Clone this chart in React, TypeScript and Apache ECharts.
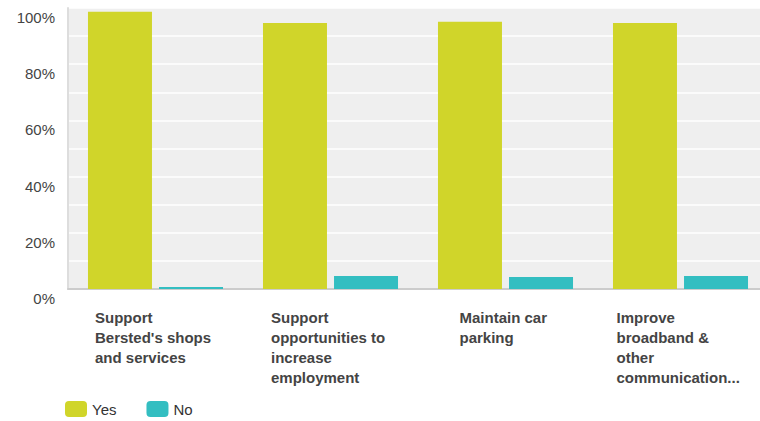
import React, { useEffect, useRef } from "react";
import * as echarts from "echarts";

const categories = [
  "Support\nBersted's shops\nand services",
  "Support\nopportunities to\nincrease\nemployment",
  "Maintain car\nparking",
  "Improve\nbroadband &\nother\ncommunication...",
];
const seriesNames = ["Yes", "No"];
const yesValues = [98.7, 94.7, 95.1, 94.7];
const noValues = [0.7, 4.6, 4.3, 4.6];
const yTicks = [0, 20, 40, 60, 80, 100];

const FONT = 'Arial, "Liberation Sans", Helvetica, sans-serif';
const LABEL_SIZE = 15;

function measure(text: string, font: string): number {
  const c = document.createElement("canvas").getContext("2d");
  if (!c) return text.length * 8;
  c.font = font;
  return c.measureText(text).width;
}

export default function App() {
  const ref = useRef<HTMLDivElement>(null);
  useEffect(() => {
    if (!ref.current) return;
    document.body.style.overflow = "hidden";
    const chart = echarts.init(ref.current, null, { renderer: "svg" });
    const rich: Record<string, any> = {};
    categories.forEach((c, i) => {
      const w = Math.max(
        ...c.split("\n").map((l) => measure(l, `bold ${LABEL_SIZE}px Arial, "Liberation Sans", sans-serif`))
      );
      rich["c" + i] = {
        width: Math.ceil(w) + 4,
        align: "left",
        fontSize: LABEL_SIZE,
        fontWeight: "bold",
        fontFamily: FONT,
        color: "#444",
        lineHeight: 20,
      };
    });
    chart.setOption({
      animation: false,
      backgroundColor: "#ffffff",
      color: ["#d0d52a", "#33bec1"],
      grid: {
        left: 68,
        top: 8,
        width: 700,
        height: 281,
        show: true,
        backgroundColor: "#efefef",
        borderWidth: 0,
      },
      legend: {
        data: seriesNames,
        left: 60,
        top: 396,
        itemWidth: 22,
        itemHeight: 16,
        itemGap: 30,
        icon: "roundRect",
        textStyle: { fontSize: 15, color: "#333", fontFamily: FONT },
      },
      xAxis: {
        type: "category",
        data: categories,
        axisLine: { show: true, lineStyle: { color: "#cccccc", width: 2 } },
        axisTick: { show: false },
        axisLabel: {
          interval: 0,
          margin: 18,
          align: "center",
          verticalAlign: "top",
          formatter: (v: string) => {
            const i = categories.indexOf(v);
            return v
              .split("\n")
              .map((l) => `{c${i}|${l}}`)
              .join("\n");
          },
          rich,
        },
        splitLine: { show: false },
      },
      yAxis: {
        type: "value",
        min: 0,
        max: 100,
        interval: 10,
        axisLine: { show: true, lineStyle: { color: "#dddddd", width: 2 } },
        axisTick: { show: false },
        splitLine: { show: true, lineStyle: { color: "#ffffff", width: 1.5 } },
        axisLabel: {
          margin: 13,
          fontSize: 15,
          color: "#444",
          fontFamily: FONT,
          verticalAlign: "top",
          padding: [2, 0, 0, 0],
          formatter: (v: number) => (yTicks.includes(v) ? v + "%" : ""),
        },
      },
      series: [
        {
          name: seriesNames[0],
          type: "bar",
          data: yesValues,
          barWidth: 64,
          barGap: "11%",
        },
        {
          name: seriesNames[1],
          type: "bar",
          data: noValues,
          barWidth: 64,
          barGap: "11%",
        },
      ],
    });
    return () => chart.dispose();
  }, []);
  return (
    <div
      ref={ref}
      style={{ position: "fixed", left: 0, top: 0, width: 768, height: 421 }}
    />
  );
}
